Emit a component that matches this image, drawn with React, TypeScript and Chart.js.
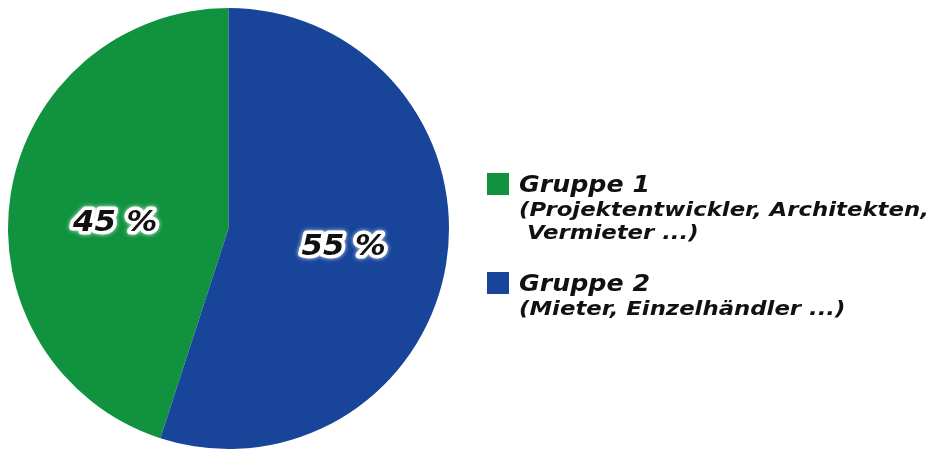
import React, { useEffect, useRef } from "react";
import { Chart, registerables } from "chart.js";

Chart.register(...registerables);

const groupLabels = ["Gruppe 1", "Gruppe 2"];
const groupDetails = [
  ["(Projektentwickler, Architekten,", " Vermieter ...)"],
  ["(Mieter, Einzelhändler ...)"],
];
const shares = [45, 55];
const sliceColors = ["#10923f", "#18459a"];

const FONT = '"DejaVu Sans", "Liberation Sans", sans-serif';
const labelNudge = [
  [0, 13],
  [2, 1],
];

const labelPlugin = {
  id: "sliceLabels",
  afterDatasetsDraw(chart: any) {
    const ctx = chart.ctx;
    const meta = chart.getDatasetMeta(0);
    ctx.save();
    ctx.font = `italic bold 29px ${FONT}`;
    ctx.textAlign = "center";
    ctx.textBaseline = "middle";
    ctx.lineJoin = "round";
    meta.data.forEach((arc: any, i: number) => {
      const p = arc.getProps(["x", "y", "startAngle", "endAngle", "outerRadius"], true);
      const mid = (p.startAngle + p.endAngle) / 2;
      const r = p.outerRadius * 0.52;
      const x = p.x + Math.cos(mid) * r + labelNudge[i][0];
      const y = p.y + Math.sin(mid) * r + labelNudge[i][1];
      const text = `${shares[i]} %`;
      ctx.save();
      ctx.translate(x, y);
      ctx.scale(1.06, 1);
      ctx.strokeStyle = "#ffffff";
      ctx.lineWidth = 7;
      ctx.shadowColor = "rgba(255,255,255,0.8)";
      ctx.shadowBlur = 4;
      ctx.strokeText(text, 0, 0);
      ctx.shadowBlur = 0;
      ctx.fillStyle = "#111111";
      ctx.fillText(text, 0, 0);
      ctx.restore();
    });
    ctx.restore();
  },
};

export default function App() {
  const canvasRef = useRef<HTMLCanvasElement | null>(null);

  useEffect(() => {
    if (!canvasRef.current) return;
    const chart = new Chart(canvasRef.current, {
      type: "pie",
      data: {
        labels: groupLabels,
        datasets: [
          {
            data: shares,
            backgroundColor: sliceColors,
            borderWidth: 0,
          },
        ],
      },
      options: {
        animation: false,
        responsive: false,
        rotation: 198,
        layout: { padding: { left: 8, right: 488, top: 8, bottom: 1 } },
        plugins: {
          legend: { display: false },
          tooltip: { enabled: false },
        },
      },
      plugins: [labelPlugin],
    });
    return () => chart.destroy();
  }, []);

  const legendTop = [172, 271];

  return (
    <div
      style={{
        position: "fixed",
        left: 0,
        top: 0,
        width: 937,
        height: 450,
        background: "#ffffff",
        overflow: "hidden",
      }}
    >
      <canvas ref={canvasRef} width={937} height={450} style={{ display: "block" }} />
      {groupLabels.map((g, i) => (
        <div
          key={g}
          style={{
            position: "absolute",
            left: 487,
            top: legendTop[i],
            fontFamily: FONT,
            fontStyle: "italic",
            fontWeight: "bold",
            color: "#111111",
          }}
        >
          <div style={{ display: "flex", alignItems: "center", height: 24 }}>
            <span
              style={{
                display: "inline-block",
                width: 22,
                height: 22,
                background: sliceColors[i],
                marginRight: 10,
              }}
            />
            <span
              style={{
                fontSize: 23,
                lineHeight: "24px",
                display: "inline-block",
                transform: "scaleX(1.1)",
                transformOrigin: "left center",
                whiteSpace: "pre",
              }}
            >
              {g}
            </span>
          </div>
          {groupDetails[i].map((line, j) => (
            <div
              key={j}
              style={{
                marginLeft: 32,
                marginTop: j === 0 ? 2 : 0,
                fontSize: 19,
                lineHeight: "23px",
                whiteSpace: "pre",
                transform: "scaleX(1.2)",
                transformOrigin: "left center",
              }}
            >
              {line}
            </div>
          ))}
        </div>
      ))}
    </div>
  );
}
